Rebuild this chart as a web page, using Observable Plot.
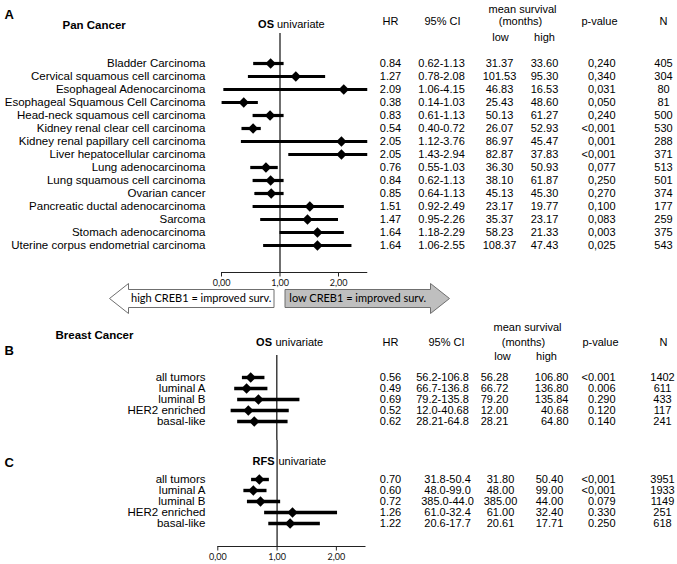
<!DOCTYPE html>
<html><head><meta charset="utf-8">
<script src="https://cdn.jsdelivr.net/npm/d3@7"></script>
<script src="https://cdn.jsdelivr.net/npm/@observablehq/plot@0.6"></script>
<style>
body{margin:0;background:#fff;}
#chart{position:relative;width:677px;height:564px;overflow:hidden;background:#fff;}
#chart svg{position:absolute;left:0;}
</style></head><body><div id="chart"></div>
<script>
// ---------- Panel A: Pan Cancer, OS univariate ----------
const panCancers = ["Bladder Carcinoma","Cervical squamous cell carcinoma","Esophageal Adenocarcinoma","Esophageal Squamous Cell Carcinoma","Head-neck squamous cell carcinoma","Kidney renal clear cell carcinoma","Kidney renal papillary cell carcinoma","Liver hepatocellular carcinoma","Lung adenocarcinoma","Lung squamous cell carcinoma","Ovarian cancer","Pancreatic ductal adenocarcinoma","Sarcoma","Stomach adenocarcinoma","Uterine corpus endometrial carcinoma"];
const panHR   = [0.84,1.27,2.09,0.38,0.83,0.54,2.05,2.05,0.76,0.84,0.85,1.51,1.47,1.64,1.64];
const panCI   = ["0.62-1.13","0.78-2.08","1.06-4.15","0.14-1.03","0.61-1.13","0.40-0.72","1.12-3.76","1.43-2.94","0.55-1.03","0.62-1.13","0.64-1.13","0.92-2.49","0.95-2.26","1.18-2.29","1.06-2.55"];
const panLow  = ["31.37","101.53","46.83","25.43","50.13","26.07","86.97","82.87","36.30","38.10","45.13","23.17","35.37","58.23","108.37"];
const panHigh = ["33.60","95.30","16.53","48.60","61.27","52.93","45.47","37.83","50.93","61.87","45.30","19.77","23.17","21.33","47.43"];
const panP    = ["0,240","0,340","0,031","0,050","0,240","<0,001","0,001","<0,001","0,077","0,250","0,270","0,100","0,083","0,003","0,025"];
const panN    = ["405","304","80","81","500","530","288","371","513","501","374","177","259","375","543"];
// whisker ends as drawn in the picture (axis ends at 2.5)
const panLo   = [0.55,0.46,0.04,0.01,0.54,0.35,0.34,1.15,0.50,0.54,0.57,0.54,0.67,1.00,0.72];
const panHi   = [1.07,1.78,2.50,0.63,1.07,0.68,2.50,2.50,0.97,1.07,1.07,2.10,2.00,2.10,2.23];

// ---------- Panels B/C: Breast Cancer subtypes ----------
const bcTypes = ["all tumors","luminal A","luminal B","HER2 enriched","basal-like"];
const osHR   = [0.56,0.49,0.69,0.52,0.62];
const osCI   = ["56.2-106.8","66.7-136.8","79.2-135.8","12.0-40.68","28.21-64.8"];
const osLow  = ["56.28","66.72","79.20","12.00","28.21"];
const osHigh = ["106.80","136.80","135.84","40.68","64.80"];
const osP    = ["<0.001","0.006","0.290","0.120","0.140"];
const osN    = ["1402","611","433","117","241"];
const osLo   = [0.42,0.29,0.34,0.23,0.34];
const osHi   = [0.80,0.85,1.39,1.21,1.19];

const rfsHR   = [0.70,0.60,0.72,1.26,1.22];
const rfsCI   = ["31.8-50.4","48.0-99.0","385.0-44.0","61.0-32.4","20.6-17.7"];
const rfsLow  = ["31.80","48.00","385.00","61.00","20.61"];
const rfsHigh = ["50.40","99.00","44.00","32.40","17.71"];
const rfsP    = ["<0,001","<0,001","0.079","0.330","0.250"];
const rfsN    = ["3951","1933","1149","251","618"];
const rfsLo   = [0.57,0.44,0.50,0.79,0.86];
const rfsHi   = [0.87,0.83,1.06,2.02,1.73];

const tickValues = [0, 1, 2];
const arrowNotes = [
  {side: "left",  text: "high CREB1 = improved surv."},
  {side: "right", text: "low CREB1 = improved surv."}
];

// ---------- helpers ----------
const W = 677;
const FONT = "Liberation Sans, Arial, sans-serif";
const FONT2 = "Lato, Open Sans, sans-serif";
const LABEL_X = 205;
const fmt2 = d3.format(".2f");

function makeRows(names, hr, ci, low, high, p, n, lo, hi) {
  return names.map((name, i) => ({name, hr: hr[i], hrText: fmt2(hr[i]), ci: ci[i], low: low[i], high: high[i], p: p[i], n: n[i], lo: lo[i], hi: hi[i]}));
}

function baseline(index, scales, values, dim) {
  const y = dim.height - dim.marginBottom;
  const l = d3.create("svg:line")
    .attr("x1", scales.x(0)).attr("x2", scales.x(2.5))
    .attr("y1", y).attr("y2", y)
    .attr("stroke", "#222").attr("stroke-width", 1.2);
  return l.node();
}

function arrowsMark(yc) {
  return (index, scales, values, dim) => {
    const g = d3.create("svg:g");
    const pivot = scales.x(1);
    const gap = 5.5, len = 170, head = 19, bh = 9, hh = 15;
    for (const n of arrowNotes) {
      const s = n.side === "left" ? -1 : 1;
      const x0 = pivot + s * gap, x1 = pivot + s * len, hb = x1 - s * head;
      const path = `M${x0},${yc - bh}L${hb},${yc - bh}L${hb},${yc - hh}L${x1},${yc}L${hb},${yc + hh}L${hb},${yc + bh}L${x0},${yc + bh}Z`;
      g.append("path").attr("d", path)
        .attr("fill", n.side === "left" ? "#ffffff" : "#bfbfbf")
        .attr("stroke", "#6f6f6f").attr("stroke-width", 1);
      g.append("text").attr("x", (x0 + hb) / 2).attr("y", yc).attr("dy", "0.35em")
        .attr("text-anchor", "middle").attr("font-family", FONT2).attr("font-size", 11)
        .attr("fill", "#000").text(n.text);
    }
    return g.node();
  };
}

function forest(cfg) {
  const {top, height, xLeft, xRight, frameBottom, ruleTop, rowTop, rowBottom, rows, cols, heads, axis, arrowY, lineWidth} = cfg;
  const m = {left: xLeft, right: W - xRight, bottom: height - (frameBottom - top)};
  const fy = v => v - top;
  const marks = [];
  for (const h of heads) {
    marks.push(Plot.text([h.t], {frameAnchor: "top-left", dx: h.x - m.left, dy: fy(h.y), text: d => d,
      textAnchor: h.a || "middle", fontWeight: h.b ? "bold" : "normal", fontSize: h.s || 11, fontFamily: FONT, fill: "#000"}));
  }
  marks.push(Plot.text(rows, {y: "name", text: "name", frameAnchor: "left", dx: LABEL_X - m.left,
    textAnchor: "end", fontSize: 11.5, fontFamily: FONT, fill: "#000"}));
  for (const c of cols) {
    marks.push(Plot.text(rows, {y: "name", text: c.key, frameAnchor: "left", dx: c.x - m.left,
      textAnchor: c.a || "middle", fontSize: 11, fontFamily: FONT, fill: "#000"}));
  }
  marks.push(Plot.ruleX([1], {insetTop: fy(ruleTop), stroke: "#222", strokeWidth: 1.3}));
  marks.push(Plot.ruleY(rows, {y: "name", x1: "lo", x2: "hi", stroke: "#000", strokeWidth: lineWidth}));
  marks.push(Plot.dot(rows, {y: "name", x: "hr", symbol: "diamond2", r: 4.7, fill: "#000", stroke: "none"}));
  if (axis) {
    marks.push(baseline);
    marks.push(Plot.axisX({ticks: tickValues, tickFormat: d => fmt2(d).replace(".", ","), tickSize: 4, tickPadding: 3,
      fontSize: 9, fontFamily: FONT2, stroke: "#222", fill: "#111", label: null}));
  }
  if (arrowY != null) marks.push(arrowsMark(fy(arrowY)));
  const svg = Plot.plot({
    width: W, height,
    marginTop: 0, marginLeft: m.left, marginRight: m.right, marginBottom: m.bottom,
    x: {domain: [0, 2.5], axis: null},
    y: {type: "point", domain: rows.map(d => d.name), range: [fy(rowTop), fy(rowBottom)], axis: null},
    style: {background: "transparent", fontFamily: FONT, overflow: "visible"},
    marks
  });
  svg.style.top = top + "px";
  return svg;
}

const chart = document.getElementById("chart");

// Panel A
chart.appendChild(forest({
  top: 0, height: 315, xLeft: 221, xRight: 367.25, frameBottom: 272.5, ruleTop: 33,
  rowTop: 50, rowBottom: 257, lineWidth: 3.2, axis: true, arrowY: 298.5,
  rows: makeRows(panCancers, panHR, panCI, panLow, panHigh, panP, panN, panLo, panHi),
  cols: [{key: "hrText", x: 390}, {key: "ci", x: 441}, {key: "low", x: 499}, {key: "high", x: 544}, {key: "p", x: 615, a: "end"}, {key: "n", x: 663}],
  heads: [
    {t: "A", x: 4, y: 9, a: "start", b: true, s: 13},
    {t: "Pan Cancer", x: 62, y: 20, a: "start", b: true, s: 11.5},
    {t: "OS", x: 273.5, y: 20, a: "end", b: true},
    {t: "univariate", x: 276.5, y: 20, a: "start"},
    {t: "HR", x: 390, y: 17},
    {t: "95% CI", x: 442, y: 17},
    {t: "mean survival", x: 522, y: 5},
    {t: "(months)", x: 520, y: 17},
    {t: "low", x: 500, y: 33},
    {t: "high", x: 544, y: 33},
    {t: "p-value", x: 599, y: 17},
    {t: "N", x: 663, y: 17}
  ]
}));

// Panel B
chart.appendChild(forest({
  top: 315, height: 125, xLeft: 217, xRight: 365.25, frameBottom: 440, ruleTop: 355,
  rowTop: 370, rowBottom: 427, lineWidth: 3.4, axis: false,
  rows: makeRows(bcTypes, osHR, osCI, osLow, osHigh, osP, osN, osLo, osHi),
  cols: [{key: "hrText", x: 390}, {key: "ci", x: 442}, {key: "low", x: 494}, {key: "high", x: 568, a: "end"}, {key: "p", x: 615, a: "end"}, {key: "n", x: 662}],
  heads: [
    {t: "Breast Cancer", x: 55, y: 330, a: "start", b: true, s: 11.5},
    {t: "B", x: 4, y: 345, a: "start", b: true, s: 13},
    {t: "OS", x: 271.5, y: 338, a: "end", b: true},
    {t: "univariate", x: 275, y: 338, a: "start"},
    {t: "mean survival", x: 527, y: 323},
    {t: "(months)", x: 523, y: 338},
    {t: "HR", x: 390, y: 338},
    {t: "95% CI", x: 446, y: 338},
    {t: "p-value", x: 600, y: 338},
    {t: "N", x: 663, y: 338},
    {t: "low", x: 502, y: 352},
    {t: "high", x: 546, y: 352}
  ]
}));

// Panel C
chart.appendChild(forest({
  top: 440, height: 124, xLeft: 217.3, xRight: 365.5, frameBottom: 546.5, ruleTop: 440,
  rowTop: 471.5, rowBottom: 530, lineWidth: 3.4, axis: true,
  rows: makeRows(bcTypes, rfsHR, rfsCI, rfsLow, rfsHigh, rfsP, rfsN, rfsLo, rfsHi),
  cols: [{key: "hrText", x: 390}, {key: "ci", x: 447}, {key: "low", x: 500}, {key: "high", x: 549}, {key: "p", x: 615, a: "end"}, {key: "n", x: 662}],
  heads: [
    {t: "C", x: 4, y: 457, a: "start", b: true, s: 13},
    {t: "RFS", x: 274, y: 457, a: "end", b: true},
    {t: "univariate", x: 278, y: 457, a: "start"}
  ]
}));
</script></body></html>
